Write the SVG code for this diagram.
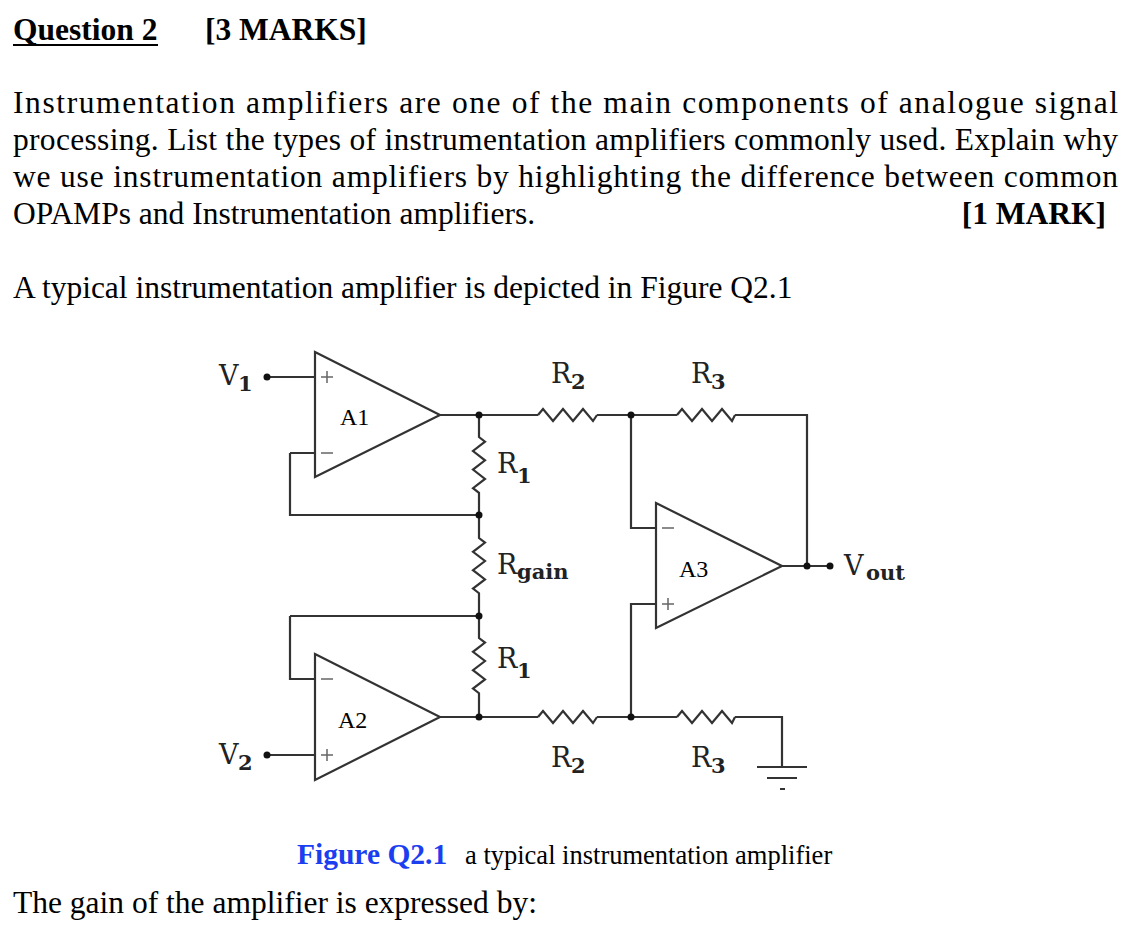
<svg xmlns="http://www.w3.org/2000/svg" width="1136" height="932" viewBox="0 0 1136 932">
<style>
.t{font-family:"Liberation Serif",serif;font-size:31.5px;fill:#000}
.b{font-weight:bold}
.w{fill:none;stroke:#333;stroke-width:2.2;stroke-linejoin:miter}
.lbl{font-family:"DejaVu Serif",serif;font-size:27px;fill:#222}
.sub{font-family:"DejaVu Serif",serif;font-size:21px;font-weight:bold;fill:#222}
.a{font-family:"Liberation Serif",serif;font-size:24px;fill:#000}
.pm{fill:none;stroke:#666;stroke-width:1.5}
</style>
<rect width="1136" height="932" fill="#fff"/>
<text class="t b" x="13" y="40">Question 2</text>
<line x1="13" y1="45" x2="158" y2="45" stroke="#000" stroke-width="2"/>
<text class="t b" x="205" y="40">[3 MARKS]</text>
<text class="t" x="13" y="113" textLength="1105" lengthAdjust="spacing">Instrumentation amplifiers are one of the main components of analogue signal</text>
<text class="t" x="13" y="150" textLength="1105" lengthAdjust="spacing">processing. List the types of instrumentation amplifiers commonly used. Explain why</text>
<text class="t" x="13" y="187" textLength="1105" lengthAdjust="spacing">we use instrumentation amplifiers by highlighting the difference between common</text>
<text class="t" x="13" y="224">OPAMPs and Instrumentation amplifiers.</text>
<text class="t b" x="1106" y="224" text-anchor="end">[1 MARK]</text>
<text class="t" x="13" y="298">A typical instrumentation amplifier is depicted in Figure Q2.1</text>

<g id="connectors">
<path class="w" d="M267,377 H315 M290,453 H315 M290,453 V515 H479 M440,415 H538 M597,415 H677 M735,415 H807 V566 M782,566 H830"/>
<path class="w" d="M479,415 V437 l6,4.7 l-12,9.3 l12,9.3 l-12,9.3 l12,9.3 l-12,9.3 l6,4.7 V538 l6,4.6 l-12,9.2 l12,9.2 l-12,9.2 l12,9.2 l-12,9.2 l6,4.6 V638 l6,4.6 l-12,9.2 l12,9.2 l-12,9.2 l12,9.2 l-12,9.2 l6,4.6 V717"/>
<path class="w" d="M538,415 l5,-6 l10,12 l10,-12 l10,12 l10,-12 l10,12 l4,-6"/>
<path class="w" d="M677,415 l5,-6 l10,12 l10,-12 l10,12 l10,-12 l10,12 l3,-6"/>
<path class="w" d="M440,717 H538 M597,717 H677 M735,717 H782 V767 M631,415 V528 H656 M631,717 V604 H656 M290,616 H479 M290,616 V679 H315 M267,755 H315"/>
<path class="w" d="M538,717 l5,-6 l10,12 l10,-12 l10,12 l10,-12 l10,12 l4,-6"/>
<path class="w" d="M677,717 l5,-6 l10,12 l10,-12 l10,12 l10,-12 l10,12 l3,-6"/>
<path class="w" d="M757,767 H807 M767,778 H797 M780,789 H785" stroke="#777"/>
<g fill="#111">
<circle cx="267" cy="377" r="3.5"/><circle cx="267" cy="755" r="3.5"/>
<circle cx="479" cy="415" r="3.5"/><circle cx="479" cy="515" r="3.5"/><circle cx="479" cy="616" r="3.5"/><circle cx="479" cy="717" r="3.5"/>
<circle cx="631" cy="415" r="3.5"/><circle cx="631" cy="717" r="3.5"/><circle cx="807" cy="566" r="3.5"/><circle cx="830" cy="566" r="3.5"/>
</g>
</g>

<g id="A1"><path class="w" d="M315,352 L440,415 L315,477 Z"/><path class="pm" d="M321,377 h12 M327,371 v12 M321,453 h12"/><text class="a" x="340" y="425">A1</text></g>
<g id="A2"><path class="w" d="M315,654 L440,717 L315,780 Z"/><path class="pm" d="M321,755 h12 M327,749 v12 M321,679 h12"/><text class="a" x="338" y="728">A2</text></g>
<g id="A3"><path class="w" d="M656,503 L782,566 L656,628 Z"/><path class="pm" d="M662,604 h12 M668,598 v12 M662,528 h12"/><text class="a" x="679" y="577">A3</text></g>

<g id="labels">
<text class="lbl" x="219" y="385">V</text><text class="sub" x="238" y="391">1</text>
<text class="lbl" x="219" y="764">V</text><text class="sub" x="238" y="770">2</text>
<text class="lbl" x="551" y="383">R</text><text class="sub" x="571" y="389">2</text>
<text class="lbl" x="691" y="383">R</text><text class="sub" x="711" y="389">3</text>
<text class="lbl" x="497" y="473">R</text><text class="sub" x="517" y="483">1</text>
<text class="lbl" x="497" y="574">R</text><text class="sub" x="517" y="579">gain</text>
<text class="lbl" x="497" y="668">R</text><text class="sub" x="517" y="678">1</text>
<text class="lbl" x="551" y="767">R</text><text class="sub" x="571" y="773">2</text>
<text class="lbl" x="691" y="767">R</text><text class="sub" x="711" y="773">3</text>
<text class="lbl" x="844" y="575">V</text><text class="sub" x="866" y="580">out</text>
</g>

<text x="297" y="864" font-family="Liberation Serif,serif" font-size="29.5" font-weight="bold" fill="#1a3ef0">Figure Q2.1</text>
<text x="465" y="864" font-family="Liberation Serif,serif" font-size="26.5" fill="#000">a typical instrumentation amplifier</text>
<text class="t" x="13" y="913">The gain of the amplifier is expressed by:</text>
</svg>
